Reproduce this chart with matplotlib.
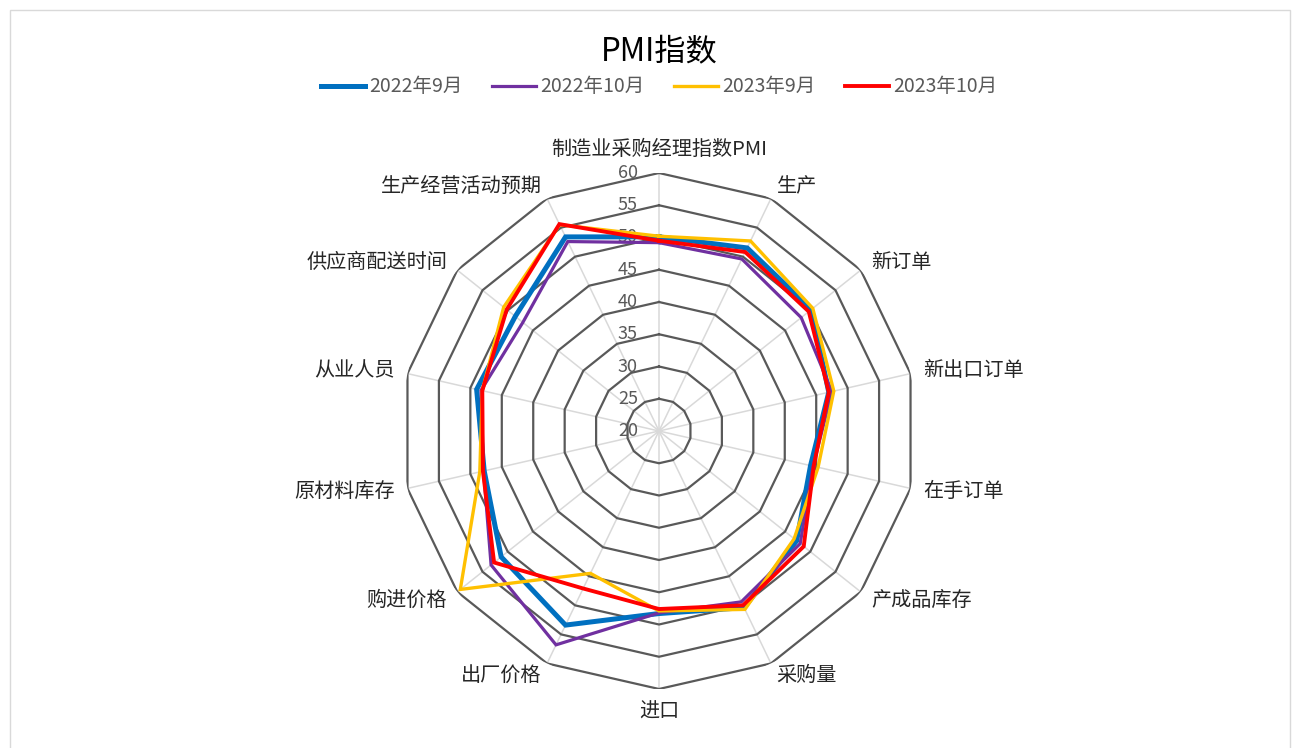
"""
    PMI radar chart
"""
import numpy as np
import matplotlib
matplotlib.use("Agg")
import matplotlib.pyplot as plt
from matplotlib.transforms import offset_copy
from matplotlib.patches import Rectangle

plt.rcParams['font.family'] = ['Noto Sans CJK SC', 'DejaVu Sans']

# categories clockwise from the top
categories = ['制造业采购经理指数PMI', '生产', '新订单', '新出口订单', '在手订单', '产成品库存',
              '采购量', '进口', '出厂价格', '购进价格', '原材料库存', '从业人员',
              '供应商配送时间', '生产经营活动预期']

sep_2022 = [50.1, 51.5, 50.2, 47.0, 44.1, 47.3, 50.4, 48.3, 53.4, 51.3, 47.8, 49.0, 48.5, 53.4]
oct_2022 = [49.2, 49.6, 48.2, 47.5, 44.5, 48.0, 49.4, 48.2, 56.8, 53.3, 47.9, 48.3, 47.0, 52.6]
sep_2023 = [50.2, 52.7, 50.5, 47.8, 45.3, 46.8, 50.7, 47.9, 44.5, 59.4, 48.5, 48.1, 50.8, 55.5]
oct_2023 = [49.5, 50.8, 49.7, 47.0, 44.6, 48.7, 50.0, 47.6, 47.1, 52.7, 48.0, 48.1, 50.2, 55.6]

series_names = ['2022年9月', '2022年10月', '2023年9月', '2023年10月']
ticks = [20, 25, 30, 35, 40, 45, 50, 55, 60]

W, H = 1301, 748
fig = plt.figure(figsize=(W / 100, H / 100), dpi=100)

# chart area border
fig.patches.append(Rectangle((10 / W, -0.02), 1280 / W, (H - 10) / H + 0.02,
                             transform=fig.transFigure, fill=False,
                             edgecolor='#d9d9d9', lw=1))

# polar axes centred at (659, 431) px with radius 258 px
cx, cy, R = 659, 431, 258
ax = fig.add_axes([(cx - R) / W, (H - cy - R) / H, 2 * R / W, 2 * R / H], polar=True)
ax.set_theta_zero_location('N')
ax.set_theta_direction(-1)
ax.set_ylim(20, 60)
ax.grid(False)
ax.set_xticks([])
ax.set_yticks([])
ax.spines['polar'].set_visible(False)
ax.patch.set_alpha(0)

n = len(categories)
theta = np.linspace(0, 2 * np.pi, n, endpoint=False)
theta_c = np.append(theta, theta[0])

# spokes
for t in theta:
    ax.plot([t, t], [20, 60], color='#d9d9d9', lw=1.1, zorder=1)

# polygon rings
for v in ticks[1:]:
    ax.plot(theta_c, [v] * (n + 1), color='#595959', lw=1.6, zorder=2)

# radial tick labels
tick_tr = offset_copy(ax.transData, fig=fig, x=-21, y=0, units='dots')
for v in ticks:
    ax.text(0, v, str(v), transform=tick_tr, ha='right', va='center',
            fontsize=13, color='#595959', zorder=3)

# data
colors = ['#0070C0', '#7030A0', '#FFC000', '#FF0000']
widths = [3.6, 2.3, 2.4, 2.8]
for vals, name, c, lw in zip([sep_2022, oct_2022, sep_2023, oct_2023], series_names, colors, widths):
    ax.plot(theta_c, vals + vals[:1], color=c, lw=lw, label=name, zorder=4,
            solid_joinstyle='miter')

# category labels
r_lab = 20 + 271 / R * 40
for t, lab in zip(theta, categories):
    s, c = np.sin(t), np.cos(t)
    if s > 0.1:
        ha = 'left'
    elif s < -0.1:
        ha = 'right'
    else:
        ha = 'center'
    if abs(s) > 0.1:
        va = 'center'
    elif c > 0:
        va = 'bottom'
    else:
        va = 'top'
    ax.text(t, r_lab, lab, ha=ha, va=va, fontsize=14.5, color='#262626', clip_on=False)

fig.text(cx / W, 1 - 51 / H, 'PMI指数', ha='center', va='center', fontsize=22.5, color='#000000')

leg = fig.legend(loc='center', bbox_to_anchor=(cx / W, 1 - 87 / H), ncol=4, frameon=False,
                 fontsize=14, handlelength=2.3, handletextpad=0.2, columnspacing=1.5)
for txt in leg.get_texts():
    txt.set_color('#595959')

fig.savefig('out.png', dpi=100)
